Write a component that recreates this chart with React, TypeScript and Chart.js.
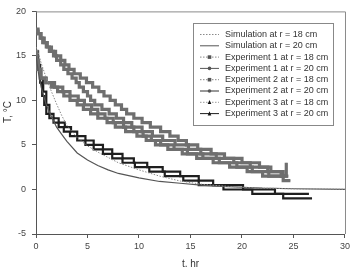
import { useEffect, useRef } from "react";
import { Chart, registerables } from "chart.js";

Chart.register(...registerables);

// ---- data ----
const simT = [0, 0.25, 0.5, 1, 1.5, 2, 2.5, 3, 4, 5, 6, 7, 8, 10, 12, 14, 16, 18, 20, 22, 25, 30];
const sim18 = [16, 15.2, 14.2, 12.5, 11, 9.6, 8.3, 7.2, 5.8, 4.9, 4.2, 3.6, 3.0, 2.2, 1.5, 0.95, 0.6, 0.4, 0.25, 0.15, 0.08, 0.02];
const sim20 = [15, 13, 11.5, 9.5, 8.2, 7.0, 6.2, 5.4, 4.1, 3.3, 2.7, 2.2, 1.8, 1.3, 0.9, 0.7, 0.5, 0.35, 0.25, 0.15, 0.08, 0.02];

const exp1r18T = [0, 0.2, 0.5, 0.8, 1.1, 1.5, 1.9, 2.4, 2.8, 3.2, 3.7, 4.3, 4.9, 5.5, 6.1, 6.6, 7.2, 7.7, 8.3, 8.8, 9.5, 10.3, 11.1, 12.1, 13.0, 13.8, 14.6, 15.7, 17.0, 18.3, 20.0, 21.7, 22.8, 23.8, 24.3, 24.3];
const exp1r18 = [17.8, 17.5, 17, 16.5, 16, 15.5, 15, 14.5, 14, 13.5, 13, 12.5, 12, 11.5, 11, 10.5, 10, 9.5, 9, 8.5, 8, 7.5, 7, 6.5, 6, 5.5, 5, 4.5, 4, 3.5, 3, 2.5, 2, 1.5, 1.5, 3.0];

const exp1r20T = [0, 0.1, 0.25, 0.5, 0.9, 1.8, 2.6, 3.3, 4.1, 4.7, 5.4, 6.0, 6.7, 7.5, 8.5, 9.5, 10.4, 11.2, 12.1, 13.4, 14.7, 16.2, 17.8, 19.5, 21.0, 22.6, 24.0, 24.7];
const exp1r20 = [15.5, 14.5, 13.5, 12.5, 12, 11.5, 11, 10.5, 10, 9.5, 9, 8.5, 8, 7.5, 7, 6.5, 6, 5.5, 5, 4.5, 4, 3.5, 3, 2.5, 2, 1.5, 1.0, 1.0];

const exp2r18T = [0, 0.2, 0.4, 0.65, 1.0, 1.3, 1.7, 2.0, 2.4, 2.7, 3.1, 3.5, 3.9, 4.2, 4.6, 5.0, 5.3, 5.7, 6.4, 7.1, 7.8, 8.5, 9.3, 10.3, 11.3, 12.3, 13.5, 14.8, 16.0, 17.5, 19.2, 20.8, 22.5, 24.0, 24.5];
const exp2r18 = [18, 17.5, 17, 16.5, 16, 15.5, 15, 14.5, 14, 13.5, 13, 12.5, 12, 11.5, 11, 10.5, 10, 9.5, 9, 8.5, 8, 7.5, 7, 6.5, 6, 5.5, 5, 4.5, 4, 3.5, 3, 2.5, 2, 1.5, 1.5];

const exp2r20T = [0, 0.15, 0.4, 1.0, 1.5, 2.1, 2.7, 3.3, 4.0, 4.6, 5.3, 6.0, 6.9, 7.7, 8.7, 9.8, 10.7, 11.6, 12.8, 14.2, 15.6, 17.2, 18.8, 20.5, 22.0, 24.2];
const exp2r20 = [14.5, 13.5, 12.5, 12, 11.5, 11, 10.5, 10, 9.5, 9, 8.5, 8, 7.5, 7, 6.5, 6, 5.5, 5, 4.5, 4, 3.5, 3, 2.5, 2, 1.5, 1.5];

const exp3r18T = [0, 0.2, 0.4, 0.7, 1.0, 1.3, 1.7, 2.2, 2.8, 3.4, 4.0, 4.8, 5.6, 6.5, 7.4, 8.4, 9.5, 10.8, 12.3, 14.0, 15.8, 17.2, 20.1, 23.2, 26.5];
const exp3r18 = [15.5, 14, 12.5, 11, 9.5, 8.5, 8.0, 7.5, 7.0, 6.5, 6.0, 5.5, 5.0, 4.5, 4.0, 3.5, 3.0, 2.5, 2.0, 1.5, 1.0, 0.5, 0.0, -0.5, -0.5];

const exp3r20T = [0, 0.2, 0.4, 0.6, 0.8, 1.0, 1.3, 1.7, 2.2, 2.7, 3.3, 4.0, 4.8, 5.6, 6.5, 7.4, 8.4, 9.6, 11.0, 12.5, 14.3, 15.8, 18.2, 21.0, 24.0, 26.8];
const exp3r20 = [15, 13.5, 12, 10.5, 9.5, 8.5, 8.0, 7.5, 7.0, 6.5, 6.0, 5.5, 5.0, 4.5, 4.0, 3.5, 3.0, 2.5, 2.0, 1.5, 1.0, 0.5, 0.0, -0.5, -1.0, -1.0];

const seriesLabels = [
  "Simulation at r = 18 cm",
  "Simulation at r = 20 cm",
  "Experiment 1 at r = 18 cm",
  "Experiment 1 at r = 20 cm",
  "Experiment 2 at r = 18 cm",
  "Experiment 2 at r = 20 cm",
  "Experiment 3 at r = 18 cm",
  "Experiment 3 at r = 20 cm",
];
const xTitle = "t, hr";
const yTitle = "T, °C";
const xMin = 0, xMax = 30, xStep = 5;
const yMin = -5, yMax = 20, yStep = 5;

const FONT = "'Liberation Sans', Arial, sans-serif";

function pts(t: number[], v: number[]) {
  return t.map((x, i) => ({ x, y: v[i] }));
}

const framePlugin = {
  id: "frameAndLegend",
  afterDraw(chart: any) {
    const { ctx, chartArea } = chart;
    ctx.save();
    ctx.strokeStyle = "#8a8a8a";
    ctx.lineWidth = 1;
    ctx.beginPath();
    ctx.moveTo(chartArea.left, chartArea.top + 0.5);
    ctx.lineTo(chartArea.right + 0.5, chartArea.top + 0.5);
    ctx.lineTo(chartArea.right + 0.5, chartArea.bottom);
    ctx.stroke();

    ctx.fillStyle = "#333";
    ctx.font = `10px ${FONT}`;
    ctx.textAlign = "center";
    ctx.textBaseline = "middle";
    ctx.fillText(xTitle, (chartArea.left + chartArea.right) / 2, 264);
    ctx.save();
    ctx.translate(8, 112);
    ctx.rotate(-Math.PI / 2);
    ctx.fillText(yTitle, 0, 0);
    ctx.restore();

    const bx = 193.5, by = 23.5, bw = 140, bh = 102;
    ctx.fillStyle = "#fff";
    ctx.fillRect(bx, by, bw, bh);
    ctx.strokeStyle = "#888";
    ctx.strokeRect(bx, by, bw, bh);
    const ds = chart.data.datasets.filter((d: any) => !d.overlay);
    ctx.font = `9px ${FONT}`;
    ctx.textAlign = "left";
    ctx.textBaseline = "middle";
    ds.forEach((d: any, i: number) => {
      const y = 34.5 + i * 11.3;
      ctx.save();
      ctx.strokeStyle = d.legendColor || d.borderColor;
      ctx.lineWidth = 1;
      ctx.setLineDash(d.legendDash || []);
      ctx.beginPath();
      ctx.moveTo(200, y);
      ctx.lineTo(219, y);
      ctx.stroke();
      ctx.setLineDash([]);
      if (d.legendMarker) {
        ctx.fillStyle = d.legendMarkerColor || "#555";
        const r = 1.8;
        ctx.beginPath();
        if (d.legendMarker === "rect") {
          ctx.rect(209.5 - r, y - r, 2 * r, 2 * r);
        } else if (d.legendMarker === "triangle") {
          ctx.moveTo(209.5, y - r - 0.5);
          ctx.lineTo(209.5 + r, y + r);
          ctx.lineTo(209.5 - r, y + r);
          ctx.closePath();
        } else {
          ctx.arc(209.5, y, r, 0, Math.PI * 2);
        }
        ctx.fill();
      }
      ctx.restore();
      ctx.fillStyle = "#333";
      ctx.fillText(d.label, 225, y);
    });
    ctx.restore();
  },
};

export default function App() {
  const ref = useRef<HTMLCanvasElement | null>(null);
  useEffect(() => {
    if (!ref.current) return;
    const grayExp = {
      stepped: "before" as const,
      borderColor: "#6f6f6f",
      borderWidth: 3.2,
      pointRadius: 0,
      legendColor: "#888",
    };
    const grayInner = {
      stepped: "before" as const,
      borderColor: "#c4c4c4",
      borderWidth: 1,
      pointRadius: 0,
      overlay: true,
    };
    const darkExp = {
      stepped: "before" as const,
      borderColor: "#1e1e1e",
      borderWidth: 2.2,
      pointRadius: 0,
      legendMarker: "triangle",
      legendMarkerColor: "#111",
    };
    const chart = new Chart(ref.current, {
      type: "line",
      data: {
        datasets: [
          { label: seriesLabels[0], data: pts(simT, sim18), borderColor: "#8a8a8a", borderWidth: 1, borderDash: [1.5, 1.5], legendDash: [1.5, 1.5], pointRadius: 0, tension: 0 } as any,
          { label: seriesLabels[1], data: pts(simT, sim20), borderColor: "#555", borderWidth: 1.2, pointRadius: 0, tension: 0 } as any,
          { label: seriesLabels[2], data: pts(exp1r18T, exp1r18), ...grayExp, legendDash: [1.5, 1.5], legendMarker: "rect" } as any,
          { label: seriesLabels[3], data: pts(exp1r20T, exp1r20), ...grayExp, legendColor: "#555", legendMarker: "circle" } as any,
          { label: seriesLabels[4], data: pts(exp2r18T, exp2r18), ...grayExp, legendDash: [1.5, 1.5], legendMarker: "rect" } as any,
          { label: seriesLabels[5], data: pts(exp2r20T, exp2r20), ...grayExp, legendColor: "#333", legendMarker: "circle" } as any,
          { label: seriesLabels[6], data: pts(exp3r18T, exp3r18), ...darkExp, legendColor: "#999", legendDash: [1.5, 1.5] } as any,
          { label: seriesLabels[7], data: pts(exp3r20T, exp3r20), ...darkExp } as any,
          { label: "o1", data: pts(exp1r18T, exp1r18), ...grayInner } as any,
          { label: "o2", data: pts(exp1r20T, exp1r20), ...grayInner } as any,
          { label: "o3", data: pts(exp2r18T, exp2r18), ...grayInner } as any,
          { label: "o4", data: pts(exp2r20T, exp2r20), ...grayInner } as any,
        ],
      },
      options: {
        responsive: false,
        animation: false,
        layout: { padding: { top: 9, right: 5, left: 0, bottom: 0 } },
        plugins: { legend: { display: false }, tooltip: { enabled: false } },
        scales: {
          x: {
            type: "linear",
            min: xMin,
            max: xMax,
            ticks: { stepSize: xStep, color: "#444", font: { size: 9, family: FONT }, padding: 3, maxRotation: 0 },
            grid: { drawOnChartArea: false, tickLength: 4, color: "#555" },
            border: { color: "#555" },
            afterFit: (s: any) => { s.height = 33; },
          },
          y: {
            type: "linear",
            min: yMin,
            max: yMax,
            ticks: { stepSize: yStep, color: "#444", font: { size: 9, family: FONT }, padding: 6 },
            grid: { drawOnChartArea: false, tickLength: 4, color: "#555" },
            border: { color: "#555" },
            afterFit: (s: any) => { s.width = 36; },
          },
        },
      },
      plugins: [framePlugin],
    });
    return () => chart.destroy();
  }, []);
  return (
    <div style={{ position: "fixed", left: 0, top: 0, width: 353, height: 267, background: "#fff" }}>
      <canvas ref={ref} width={353} height={267} style={{ display: "block" }} />
    </div>
  );
}
